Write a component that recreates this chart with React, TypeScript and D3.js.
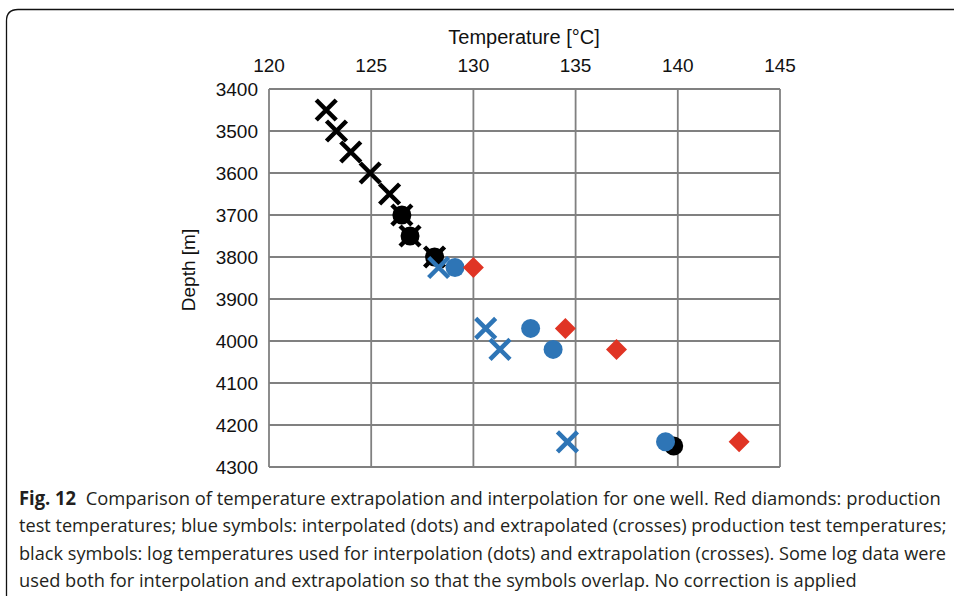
import { useEffect, useRef } from 'react'
import * as d3 from 'd3'

// data: [temperature °C, depth m]
const blackCrosses: [number, number][] = [
  [122.8, 3450], [123.3, 3500], [124.0, 3550], [124.95, 3600],
  [125.9, 3650], [126.5, 3700], [126.9, 3750], [128.1, 3800],
]
const blackDots: [number, number][] = [
  [126.5, 3700], [126.9, 3750], [128.1, 3800], [139.8, 4250],
]
const blueCrosses: [number, number][] = [
  [128.3, 3825], [130.6, 3970], [131.3, 4020], [134.6, 4240],
]
const blueDots: [number, number][] = [
  [129.1, 3825], [132.8, 3970], [133.9, 4020], [139.4, 4240],
]
const redDiamonds: [number, number][] = [
  [130.0, 3825], [134.5, 3970], [137.0, 4020], [143.0, 4240],
]
const xTicks = [120, 125, 130, 135, 140, 145]
const yTicks = [3400, 3500, 3600, 3700, 3800, 3900, 4000, 4100, 4200, 4300]

const captionLines = [
  { bold: 'Fig. 12', text: '  Comparison of temperature extrapolation and interpolation for one well. Red diamonds: production', end: 941 },
  { bold: '', text: 'test temperatures; blue symbols: interpolated (dots) and extrapolated (crosses) production test temperatures;', end: 947 },
  { bold: '', text: 'black symbols: log temperatures used for interpolation (dots) and extrapolation (crosses). Some log data were', end: 947 },
  { bold: '', text: 'used both for interpolation and extrapolation so that the symbols overlap. No correction is applied', end: 857 },
]

export default function App() {
  const svgRef = useRef<SVGSVGElement>(null)

  useEffect(() => {
    if (!svgRef.current) return
    const svg = d3.select(svgRef.current)
    svg.selectAll('*').remove()

    const width = 954
    const height = 596
    const plot = { left: 269, right: 780, top: 89, bottom: 467 }
    const font = '"Liberation Sans", Arial, sans-serif'

    svg.attr('width', width).attr('height', height)

    // frame around figure
    svg.append('path')
      .attr('d', `M6.5,${height + 2} V21 Q6.5,9.5 18,9.5 H${width + 2}`)
      .attr('fill', 'none')
      .attr('stroke', '#111')
      .attr('stroke-width', 1.3)

    const x = d3.scaleLinear().domain([120, 145]).range([plot.left, plot.right])
    const y = d3.scaleLinear().domain([3400, 4300]).range([plot.top, plot.bottom])

    const g = svg.append('g')

    // grid
    g.selectAll('.vgrid')
      .data(xTicks)
      .enter()
      .append('line')
      .attr('x1', d => x(d)).attr('x2', d => x(d))
      .attr('y1', plot.top).attr('y2', plot.bottom)
      .attr('stroke', '#808080').attr('stroke-width', 1.8)
    g.selectAll('.hgrid')
      .data(yTicks)
      .enter()
      .append('line')
      .attr('x1', plot.left).attr('x2', plot.right)
      .attr('y1', d => y(d)).attr('y2', d => y(d))
      .attr('stroke', '#808080').attr('stroke-width', 1.8)

    // tick labels
    g.selectAll('.xlab')
      .data(xTicks)
      .enter()
      .append('text')
      .attr('x', d => x(d))
      .attr('y', 72)
      .attr('text-anchor', 'middle')
      .style('font-family', font)
      .style('font-size', '19px')
      .style('fill', '#111')
      .text(d => d)
    g.selectAll('.ylab')
      .data(yTicks)
      .enter()
      .append('text')
      .attr('x', 258)
      .attr('y', d => y(d) + 7)
      .attr('text-anchor', 'end')
      .style('font-family', font)
      .style('font-size', '19px')
      .style('fill', '#111')
      .text(d => d)

    // axis titles
    g.append('text')
      .attr('x', 524)
      .attr('y', 44)
      .attr('text-anchor', 'middle')
      .style('font-family', font)
      .style('font-size', '20px')
      .style('fill', '#111')
      .text('Temperature [°C]')
    g.append('text')
      .attr('transform', `translate(195,270) rotate(-90)`)
      .attr('text-anchor', 'middle')
      .style('font-family', font)
      .style('font-size', '19px')
      .style('fill', '#111')
      .text('Depth [m]')

    const crossPath = (s: number) => `M${-s},${-s}L${s},${s}M${-s},${s}L${s},${-s}`

    // black dots
    g.selectAll('.bdot')
      .data(blackDots)
      .enter()
      .append('circle')
      .attr('cx', d => x(d[0])).attr('cy', d => y(d[1]))
      .attr('r', 9.5)
      .attr('fill', '#000')

    // black crosses
    g.selectAll('.bcross')
      .data(blackCrosses)
      .enter()
      .append('path')
      .attr('transform', d => `translate(${x(d[0])},${y(d[1])})`)
      .attr('d', crossPath(10))
      .attr('stroke', '#000')
      .attr('stroke-width', 4.5)
      .attr('fill', 'none')

    // blue crosses
    g.selectAll('.ucross')
      .data(blueCrosses)
      .enter()
      .append('path')
      .attr('transform', d => `translate(${x(d[0])},${y(d[1])})`)
      .attr('d', crossPath(10))
      .attr('stroke', '#2e75b6')
      .attr('stroke-width', 4.5)
      .attr('fill', 'none')

    // blue dots
    g.selectAll('.udot')
      .data(blueDots)
      .enter()
      .append('circle')
      .attr('cx', d => x(d[0])).attr('cy', d => y(d[1]))
      .attr('r', 9.5)
      .attr('fill', '#2e75b6')

    // red diamonds
    g.selectAll('.rdia')
      .data(redDiamonds)
      .enter()
      .append('path')
      .attr('transform', d => `translate(${x(d[0])},${y(d[1])})`)
      .attr('d', 'M0,-10.5L10.5,0L0,10.5L-10.5,0Z')
      .attr('fill', '#e03424')

    // caption: squeeze each line horizontally to the reference width
    const cap = svg.append('g')
    captionLines.forEach((line, i) => {
      const t = cap.append('text')
        .attr('x', 0)
        .attr('y', 0)
        .style('font-family', '"Open Sans", "Noto Sans", sans-serif')
        .style('font-size', '19px')
        .style('fill', '#231f20')
        .style('white-space', 'pre')
      if (line.bold) t.append('tspan').style('font-weight', 'bold').text(line.bold)
      t.append('tspan').text(line.text)
      const natural = (t.node() as SVGTextElement).getComputedTextLength() || 1
      const k = (line.end - 19) / natural
      t.attr('transform', `translate(19,${505 + i * 27.3}) scale(${k},1)`)
    })
  }, [])

  return (
    <div style={{ position: 'absolute', left: 0, top: 0 }}>
      <svg ref={svgRef} style={{ display: 'block' }}></svg>
    </div>
  )
}
